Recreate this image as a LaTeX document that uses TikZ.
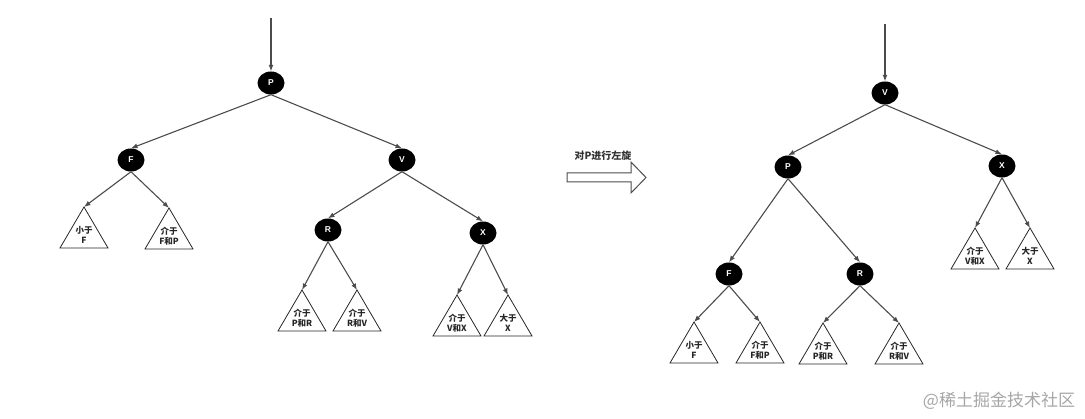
\documentclass[tikz,border=0pt]{standalone}
\usepackage{fontspec}
\setmainfont{Liberation Sans}
\newfontfamily\cjk{Noto Sans CJK SC}
\usetikzlibrary{shapes.geometric,arrows.meta,calc}

\begin{document}
\begin{tikzpicture}[x=1pt,y=-1pt,>={Latex[length=6.5pt,width=5pt]},
	rbnode/.style={ellipse,fill=black,minimum width=27pt,minimum height=23pt,inner sep=0pt,text=white,font=\bfseries\fontsize{8.5}{8.5}\selectfont},
	edge/.style={->,draw=black!70,line width=1.1pt},
	subtree/.style={draw=black!85,line width=0.8pt},
	subtext/.style={align=center,inner sep=0pt,text=black!85,font=\cjk\bfseries\fontsize{8.5}{10}\selectfont}]
	\useasboundingbox (0,0) rectangle (1085,419);
	% left tree, before the rotation
	\node[rbnode] (lP) at (271,83) {P};
	\node[rbnode] (lF) at (131,160) {F};
	\node[rbnode] (lV) at (402,160) {V};
	\node[rbnode] (lR) at (328,230) {R};
	\node[rbnode] (lX) at (483,233) {X};
	% right tree, after the rotation
	\node[rbnode] (rV) at (885,93) {V};
	\node[rbnode] (rP) at (788,167) {P};
	\node[rbnode] (rX) at (1002,166) {X};
	\node[rbnode] (rF) at (729,274) {F};
	\node[rbnode] (rR) at (860,274) {R};
	% subtrees: apex name / apex x / apex y / text
	\foreach \n/\x/\y/\txt in {lFa/84/207/{小于\\F}, lFb/169/208/{介于\\F和P},
		lRa/302/290/{介于\\P和R}, lRb/357/290/{介于\\R和V},
		lXa/457/295/{介于\\V和X}, lXb/508/295/{大于\\X},
		rFa/694/322/{小于\\F}, rFb/760/322/{介于\\F和P},
		rRa/823/323/{介于\\P和R}, rRb/899/323/{介于\\R和V},
		rXa/975/228/{介于\\V和X}, rXb/1030/228/{大于\\X}}{
		\coordinate (\n) at (\x,\y);
		\draw[subtree] (\n) -- ++(-24,41) -- ++(48,0) -- cycle;
		\node[subtext] (\n-t) at ($(\n)+(0,28)$) {\txt};
	}
	% incoming pointers
	\coordinate (ltop) at (271,18);
	\coordinate (rtop) at (885,24);
	\draw[edge] (ltop) -- (lP.north);
	\draw[edge] (rtop) -- (rV.north);
	% left edges
	\draw[edge] (lP.south) -- (lF.north);
	\draw[edge] (lP.south) -- (lV.north);
	\draw[edge] (lF.south) -- (lFa);
	\draw[edge] (lF.south) -- (lFb);
	\draw[edge] (lV.south) -- (lR.north);
	\draw[edge] (lV.south) -- (lX.north);
	\draw[edge] (lR.south) -- (lRa);
	\draw[edge] (lR.south) -- (lRb);
	\draw[edge] (lX.south) -- (lXa);
	\draw[edge] (lX.south) -- (lXb);
	% right edges
	\draw[edge] (rV.south) -- (rP.north);
	\draw[edge] (rV.south) -- (rX.north);
	\draw[edge] (rP.south) -- (rF.north);
	\draw[edge] (rP.south) -- (rR.north);
	\draw[edge] (rF.south) -- (rFa);
	\draw[edge] (rF.south) -- (rFb);
	\draw[edge] (rR.south) -- (rRa);
	\draw[edge] (rR.south) -- (rRb);
	\draw[edge] (rX.south) -- (rXa);
	\draw[edge] (rX.south) -- (rXb);
	% the rotation arrow
	\node[text=black!80,font=\cjk\bfseries\fontsize{10}{12}\selectfont] (rot) at (603,156) {对P进行左旋};
	\draw[draw=black!70,line width=1pt] (567,173) -- (631,173) -- (631,162) -- (646,177.5)
		-- (631,193) -- (631,182) -- (567,182) -- cycle;
	\node[text=black!35,font=\cjk\fontsize{17}{17}\selectfont] (mark) at (999,401) {@稀土掘金技术社区};
\end{tikzpicture}
\end{document}
